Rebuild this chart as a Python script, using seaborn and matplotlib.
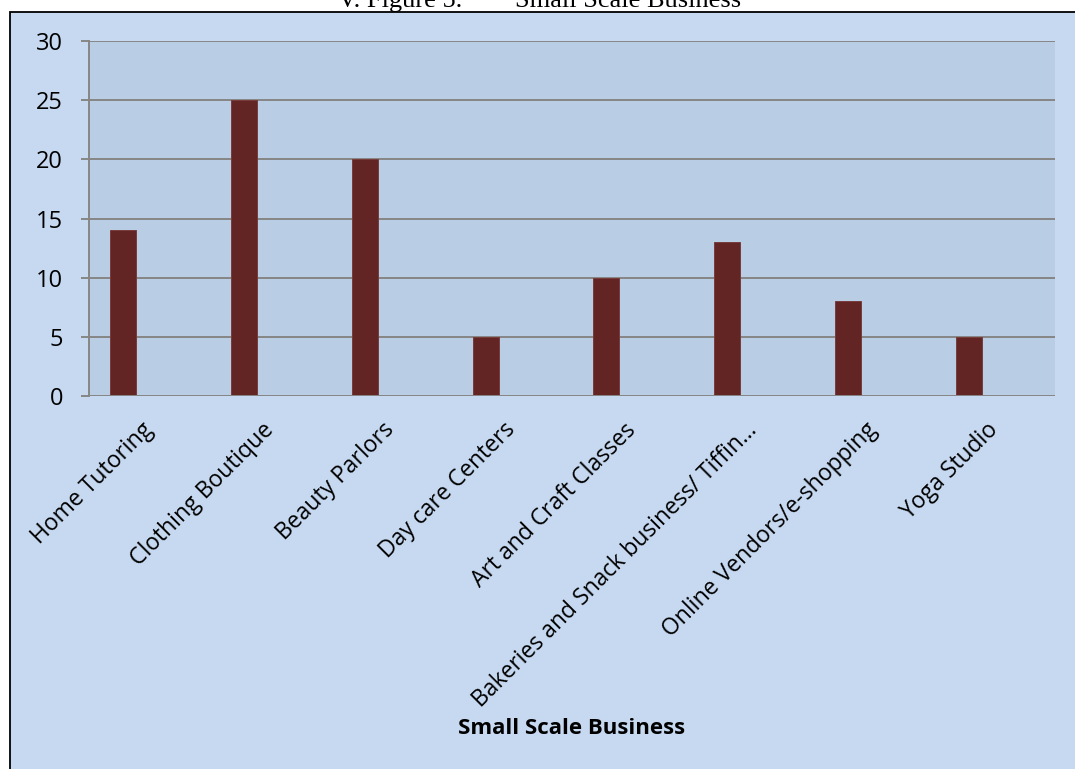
import matplotlib
matplotlib.use("Agg")
import matplotlib.pyplot as plt
import seaborn as sns
import pandas as pd
from matplotlib.patches import Rectangle

# ---- data ----
categories = ["Home Tutoring", "Clothing Boutique", "Beauty Parlors", "Day care Centers",
              "Art and Craft Classes", "Bakeries and Snack business/ Tiffin\u2026",
              "Online Vendors/e-shopping", "Yoga Studio"]
values = [14, 25, 20, 5, 10, 13, 8, 5]
series_names = ["Series1", "Series2", "Series3"]  # only the first series holds data
y_ticks = [0, 5, 10, 15, 20, 25, 30]
x_title = "Small Scale Business"
caption_left = "V. Figure 5."
caption_right = "Small Scale Business"

df = pd.DataFrame({"category": categories, "value": values,
                   "series": [series_names[0]] * len(categories)})

sns.set_theme(style="white")
plt.rcParams["font.family"] = ["Open Sans", "DejaVu Sans"]

W, H = 1075, 769
fig = plt.figure(figsize=(W / 100, H / 100), dpi=100, facecolor="white")

# chart area background with border (left + top edges visible)
bg = Rectangle((10 / W, -0.05), 1.2, 1 - 12 / H + 0.05, transform=fig.transFigure,
               facecolor="#C6D9F1", edgecolor="black", linewidth=1.3, zorder=-10)
fig.add_artist(bg)

ax = fig.add_axes([89 / W, 1 - 396 / H, (1055 - 89) / W, (396 - 41) / H])
ax.set_zorder(1)
ax.set_facecolor("#B9CDE5")

grid_c = "#868686"
lw = 1.4
sns.barplot(data=df, x="category", y="value", hue="series", hue_order=series_names,
            order=categories,
            palette={series_names[0]: "#632523", series_names[1]: "#4F81BD",
                     series_names[2]: "#9BBB59"},
            saturation=1, width=0.645, dodge=True, gap=0, legend=False,
            edgecolor="#7a3c3c", linewidth=0.7, ax=ax, zorder=3)

ax.set_xlim(-0.5, len(categories) - 0.5)
ax.set_ylim(0, 30)
ax.set_yticks(y_ticks)
ax.yaxis.grid(True, color=grid_c, linewidth=lw, zorder=1)
ax.set_axisbelow(True)
for s in ["top", "right", "bottom"]:
    ax.spines[s].set_visible(False)
ax.spines["left"].set_color(grid_c)
ax.spines["left"].set_linewidth(lw)
ax.axhline(0, color=grid_c, linewidth=lw, zorder=4)

ax.tick_params(axis="y", length=5.8, width=lw, color=grid_c, pad=13,
               labelsize=17, labelcolor="black", left=True)
ax.tick_params(axis="x", length=0, pad=22, labelsize=16.5, labelcolor="black")
ax.set_xticks(range(len(categories)))
ax.set_xticklabels(categories, rotation=45, ha="right", va="center",
                   rotation_mode="anchor")

ax.set_ylabel("")
ax.set_xlabel(x_title, fontsize=16, fontweight="bold", color="black")
ax.xaxis.set_label_coords(0.5, (396 - 729) / 355)
ax.xaxis.label.set_va("center")

# clipped caption at very top
fig.text(338 / W, 1 - 7 / H, caption_left, family="Liberation Serif", fontsize=19,
         ha="left", va="baseline", color="black")
fig.text(515 / W, 1 - 7 / H, caption_right, family="Liberation Serif", fontsize=19,
         ha="left", va="baseline", color="black")

fig.savefig("out.png", dpi=100, facecolor="white")
